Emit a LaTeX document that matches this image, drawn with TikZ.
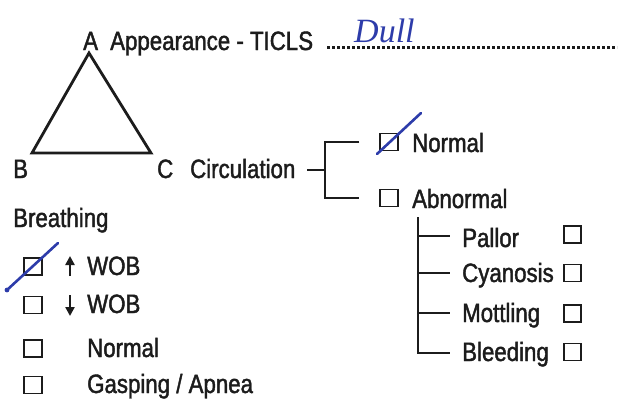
\documentclass[tikz,border=0pt]{standalone}
\usepackage{fontspec}
\setmainfont{Liberation Sans}[FakeStretch=0.84,FakeBold=1.6]
\newfontfamily\handfont{Liberation Serif}
\usetikzlibrary{arrows.meta,calc}
\definecolor{ink}{RGB}{28,28,28}
\definecolor{penblue}{RGB}{45,60,170}
\begin{document}
\begin{tikzpicture}[x=1pt,y=-1pt,
  lbl/.style={inner sep=0pt, anchor=base west, font=\fontsize{26.5}{30}\selectfont, text=ink},
  cbox/.style={draw=ink, line width=1.9pt, minimum width=17.5pt, minimum height=17pt, inner sep=0pt, anchor=center},
  wire/.style={draw=ink, line width=2.6pt},
  tri/.style={draw=ink, line width=2.8pt, line join=miter},
  dotline/.style={draw=ink, line width=3pt, dash pattern=on 2.6pt off 2.4pt},
  penline/.style={draw=penblue, line width=2.6pt, line cap=round},
  updown/.style={draw=ink, line width=2.6pt, -{Triangle[length=9pt,width=9pt]}}]
\useasboundingbox[fill=white] (0,0) rectangle (627,402);

% triangle and ABC
\coordinate (apex) at (89,53);
\coordinate (bl) at (32,153);
\coordinate (br) at (151,153);
\draw[tri] (apex) -- (bl) -- (br) -- cycle;
\node[lbl] (la) at (83,50) {A};
\node[lbl] (app) at (110,50) {Appearance - TICLS};
\node[lbl] (lb) at (13,178) {B};
\node[lbl] (lc) at (157,178) {C};
\node[lbl] (circ) at (190,178) {Circulation};

% dotted answer line with handwriting
\coordinate (d1) at (327,47);
\coordinate (d2) at (617,47);
\draw[dotline] (d1) -- (d2);
\node[inner sep=0pt, anchor=base west, text=penblue, font=\handfont\itshape\fontsize{34}{34}\selectfont] (hand) at (354,42) {Dull};

% circulation fork
\node[cbox] (nbox) at (389,142) {};
\node[cbox] (abox) at (389,198) {};
\node[lbl] (nrm) at (412,152) {Normal};
\node[lbl] (abn) at (412,208) {Abnormal};
\coordinate (stub) at (307,170);
\coordinate (fork) at (325,170);
\draw[wire] (stub) -- (fork);
\draw[wire] ([xshift=-20pt]nbox.west) -- (fork |- nbox) -- (fork |- abox) -- ([xshift=-20pt]abox.west);

% abnormal subtree
\node[lbl] (pal) at (462,247) {Pallor};
\node[lbl] (cya) at (462,282) {Cyanosis};
\node[lbl] (mot) at (462,322) {Mottling};
\node[lbl] (ble) at (462,361) {Bleeding};
\node[cbox] (pbox) at (572.5,234.5) {};
\node[cbox] (cbx) at (572.5,273) {};
\node[cbox] (mbox) at (572.5,313.5) {};
\node[cbox] (bbox) at (572.5,352) {};
\coordinate (trunk) at (418,217);
\coordinate (tp) at (450,236);
\coordinate (tc) at (450,273);
\coordinate (tm) at (450,313);
\coordinate (tb) at (450,353);
\draw[wire] (trunk) |- (tb);
\draw[wire] (trunk |- tp) -- (tp);
\draw[wire] (trunk |- tc) -- (tc);
\draw[wire] (trunk |- tm) -- (tm);

% breathing
\node[lbl] (br1) at (13,227) {Breathing};
\node[cbox] (b1) at (33,266.5) {};
\node[cbox] (b2) at (33,305) {};
\node[cbox] (b3) at (33,348.5) {};
\node[cbox] (b4) at (33,385) {};
\coordinate (u1) at (70,276);
\coordinate (u2) at (70,256);
\coordinate (w1) at (70,295);
\coordinate (w2) at (70,316);
\draw[updown] (u1) -- (u2);
\draw[updown] (w1) -- (w2);
\node[lbl] (wob1) at (87,275) {WOB};
\node[lbl] (wob2) at (87,313) {WOB};
\node[lbl] (bn) at (87,357) {Normal};
\node[lbl] (bg) at (87,393) {Gasping / Apnea};

% pen ticks
\coordinate (p1a) at (377,154);
\coordinate (p1b) at (421,113);
\draw[penline] (p1a) -- (p1b);
\coordinate (p2a) at (7,290);
\coordinate (p2b) at (58,243);
\draw[penline] (p2a) -- (p2b);
\fill[penblue] (p2a) circle (2.4pt);
\end{tikzpicture}
\end{document}
